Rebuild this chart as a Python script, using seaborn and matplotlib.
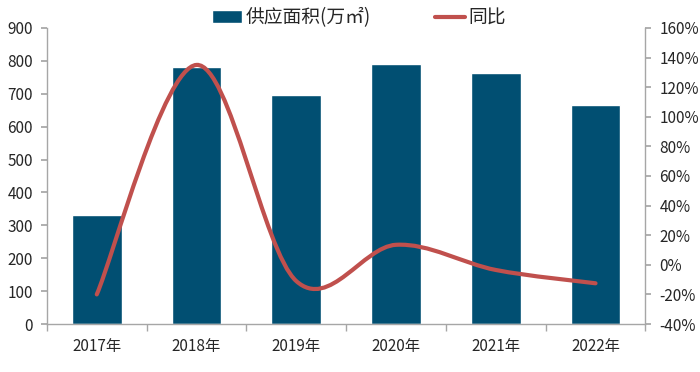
import numpy as np
import seaborn as sns
import matplotlib.pyplot as plt
from matplotlib.path import Path
from matplotlib.patches import PathPatch
from matplotlib.lines import Line2D
from matplotlib.patches import Patch

# Data
years = ["2017年", "2018年", "2019年", "2020年", "2021年", "2022年"]
supply = [330, 780, 695, 790, 763, 667]
yoy = [-20, 135, -11, 13.5, -3.5, -12.5]

sns.set_theme(style="white")
plt.rcParams['font.family'] = ['Noto Sans CJK SC', 'DejaVu Sans']

bar_color = "#014F72"
line_color = "#C0504D"
axis_color = "#A6A6A6"

fig = plt.figure(figsize=(7, 3.72), dpi=100)
ax = fig.add_axes([0.067, 0.129, 0.855, 0.796])

sns.barplot(x=years, y=supply, color=bar_color, width=0.5, saturation=1, ax=ax)
ax.set_xlim(-0.5, len(years) - 0.5)
ax.set_ylim(0, 900)
ax.set_yticks(range(0, 901, 100))

ax2 = ax.twinx()
ax2.set_ylim(-40, 160)
ax2.set_yticks(range(-40, 161, 20))
ax2.set_yticklabels([f"{v}%" for v in range(-40, 161, 20)])

# smoothed line (bezier through the data points)
pts = np.column_stack([np.arange(len(yoy)), yoy]).astype(float)
verts = [pts[0]]
codes = [Path.MOVETO]
n = len(pts)
for i in range(n - 1):
    p0 = pts[max(i - 1, 0)]
    p1 = pts[i]
    p2 = pts[i + 1]
    p3 = pts[min(i + 2, n - 1)]
    c1 = p1 + (p2 - p0) / 6
    c2 = p2 - (p3 - p1) / 6
    verts += [c1, c2, p2]
    codes += [Path.CURVE4] * 3
ax2.add_patch(PathPatch(Path(verts, codes), facecolor="none",
                        edgecolor=line_color, lw=3.0, capstyle="round"))

for a in (ax, ax2):
    for s in a.spines.values():
        s.set_visible(False)
    a.grid(False)
ax.spines['left'].set_visible(True)
ax.spines['bottom'].set_visible(True)
ax2.spines['right'].set_visible(True)
for s in (ax.spines['left'], ax.spines['bottom'], ax2.spines['right']):
    s.set_color(axis_color)
    s.set_linewidth(1)

ax.tick_params(axis='y', which='major', length=4, color=axis_color,
               labelsize=11, pad=6, left=True)
ax2.tick_params(axis='y', which='major', length=4, color=axis_color,
                labelsize=11, pad=6, right=True)
ax.set_xticks(np.arange(-0.5, len(years), 1), minor=True)
ax.tick_params(axis='x', which='major', length=0, labelsize=11, pad=10)
ax.tick_params(axis='x', which='minor', length=5, color=axis_color, bottom=True)

handles = [Patch(facecolor=bar_color, label="供应面积(万㎡)"),
           Line2D([0], [0], color=line_color, lw=3.0, label="同比")]
fig.legend(handles=handles, loc="center", bbox_to_anchor=(0.513, 0.952),
           ncol=2, frameon=False, fontsize=13.5, columnspacing=3.4,
           handlelength=1.6, handletextpad=0.2, borderpad=0)

fig.savefig("out.png", dpi=100)
